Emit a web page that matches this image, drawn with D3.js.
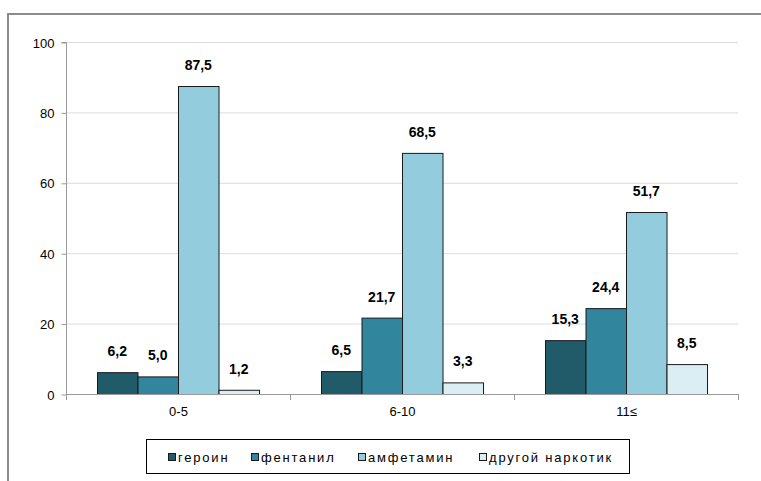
<!DOCTYPE html>
<html>
<head>
<meta charset="utf-8">
<script src="https://cdn.jsdelivr.net/npm/d3@7/dist/d3.min.js"></script>
<style>
  html, body { margin: 0; padding: 0; background: #fff; }
  svg { display: block; }
  text { font-family: "Liberation Sans", Arial, sans-serif; }
</style>
</head>
<body>
<svg id="chart" width="761" height="481"></svg>
<script>
// Data: share by years of use, per substance
const categories = ["0-5", "6-10", "11≤"];
const seriesNames = ["героин", "фентанил", "амфетамин", "другой наркотик"];
const heroin    = [6.2, 6.5, 15.3];
const fentanyl  = [5.0, 21.7, 24.4];
const amphet    = [87.5, 68.5, 51.7];
const other     = [1.2, 3.3, 8.5];
const yTicks    = [0, 20, 40, 60, 80, 100];
const colors    = ["#215A68", "#31859C", "#93CDDD", "#DBEEF4"];

const seriesValues = [heroin, fentanyl, amphet, other];

const svg = d3.select("#chart");

// outer frame (open on right/bottom edges of the view)
svg.append("rect")
  .attr("x", 8).attr("y", 14)
  .attr("width", 800).attr("height", 600)
  .attr("fill", "none")
  .attr("stroke", "#8c8c8c")
  .attr("stroke-width", 2);

const x0 = d3.scaleBand().domain(categories).range([66, 738]).paddingInner(0).paddingOuter(0);
const x1 = d3.scaleBand().domain(d3.range(4)).range([0, x0.bandwidth()]).paddingOuter(0.765).paddingInner(0);
const y = d3.scaleLinear().domain([0, 100]).range([394, 42]);

// gridlines
svg.append("g").selectAll("line")
  .data(yTicks.filter(d => d > 0))
  .join("line")
  .attr("x1", 66).attr("x2", 738)
  .attr("y1", d => y(d) + 0.5).attr("y2", d => y(d) + 0.5)
  .attr("stroke", "#dcdcdc").attr("stroke-width", 1);

// y axis
const yAxis = d3.axisLeft(y).tickValues(yTicks).tickSize(5).tickPadding(7).tickFormat(d3.format("d"));
const gy = svg.append("g").attr("transform", "translate(66.5,0.5)").call(yAxis);
gy.select(".domain").attr("stroke", "#9a9a9a").attr("d", `M-5,${y(100)}H0V${y(0)}`);
gy.selectAll(".tick line").attr("stroke", "#9a9a9a");
gy.selectAll(".tick text").attr("font-size", 13).attr("fill", "#000").attr("dy", "0.35em");

// bars
const groups = svg.append("g").selectAll("g")
  .data(categories)
  .join("g")
  .attr("transform", d => `translate(${x0(d)},0)`);

groups.selectAll("rect")
  .data((d, i) => seriesValues.map((s, k) => ({ k, v: s[i] })))
  .join("rect")
  .attr("x", d => x1(d.k) + 0.5)
  .attr("y", d => y(d.v) + 0.5)
  .attr("width", x1.bandwidth())
  .attr("height", d => y(0) - y(d.v))
  .attr("fill", d => colors[d.k])
  .attr("stroke", "#1a1a1a")
  .attr("stroke-width", 1);

// value labels
const fmt = v => v.toFixed(1).replace(".", ",");
groups.selectAll("text.val")
  .data((d, i) => seriesValues.map((s, k) => ({ k, v: s[i] })))
  .join("text")
  .attr("class", "val")
  .attr("x", d => x1(d.k) + x1.bandwidth() / 2)
  .attr("y", d => y(d.v) - 16)
  .attr("text-anchor", "middle")
  .attr("font-size", 14)
  .attr("font-weight", "bold")
  .attr("fill", "#000")
  .text(d => fmt(d.v));

// x axis
const xAxis = d3.axisBottom(x0).tickSize(0).tickPadding(12);
const gx = svg.append("g").attr("transform", `translate(0.5,${y(0) + 0.5})`).call(xAxis);
gx.select(".domain").attr("stroke", "#9a9a9a").attr("d", "M66,0H738");
gx.selectAll(".tick text").attr("font-size", 13).attr("fill", "#000");
// category separators
svg.append("g").selectAll("line")
  .data([66, 290, 514, 738])
  .join("line")
  .attr("x1", d => d + 0.5).attr("x2", d => d + 0.5)
  .attr("y1", y(0)).attr("y2", y(0) + 6)
  .attr("stroke", "#9a9a9a");

// legend
const legend = svg.append("g");
legend.append("rect")
  .attr("x", 146.5).attr("y", 439.5)
  .attr("width", 483).attr("height", 34)
  .attr("fill", "#fff").attr("stroke", "#000").attr("stroke-width", 1);
const legendX = [168, 251, 358, 479];
const items = legend.selectAll("g.item")
  .data(seriesNames)
  .join("g")
  .attr("class", "item")
  .attr("transform", (d, i) => `translate(${legendX[i]},457)`);
items.append("rect")
  .attr("x", 0.5).attr("y", -3.5)
  .attr("width", 7).attr("height", 7)
  .attr("fill", (d, i) => colors[i])
  .attr("stroke", "#1a1a1a");
items.append("text")
  .attr("x", 10).attr("y", 0)
  .attr("dy", "0.35em")
  .attr("font-size", 13)
  .attr("letter-spacing", 1.8)
  .attr("fill", "#000")
  .text(d => d);
</script>
</body>
</html>
